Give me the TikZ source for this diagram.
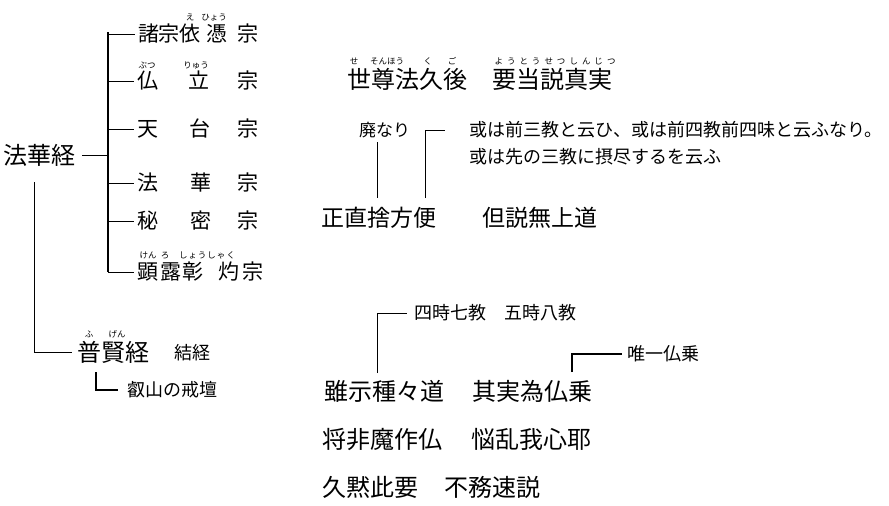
\documentclass[tikz,border=0pt]{standalone}
\usepackage{fontspec}
\setmainfont{Noto Sans CJK JP}
\newcommand\fbig{\fontsize{24pt}{24pt}\selectfont}
\newcommand\fbiga{\fontsize{23pt}{23pt}\selectfont}
\newcommand\fmid{\fontsize{21pt}{21pt}\selectfont}
\newcommand\fsml{\fontsize{18pt}{18pt}\selectfont}
\newcommand\fhai{\fontsize{17pt}{17pt}\selectfont}
\newcommand\frb{\fontsize{8.5pt}{8.5pt}\selectfont}
\newcommand\spk{\kern4pt}
\newcommand\spr{\kern1pt}
\begin{document}
\begin{tikzpicture}[x=1pt,y=-1pt,
  txt/.style={inner sep=0pt,outer sep=0pt},
  wtxt/.style={txt,anchor=west},
  big/.style={wtxt,font=\fbig,text height=21.12pt,text depth=2.88pt},
  biga/.style={wtxt,font=\fbiga,text height=20.24pt,text depth=2.76pt},
  sml/.style={wtxt,font=\fsml,text height=15.84pt,text depth=2.16pt},
  hai/.style={wtxt,font=\fhai,text height=14.96pt,text depth=2.04pt},
  ch/.style={txt,font=\fmid,text height=18.48pt,text depth=2.52pt},
  rb/.style={txt,font=\frb,text height=7.48pt,text depth=1.02pt},
  ln/.style={line width=0.8pt},
  trunk/.style={line width=1.6pt}]
\useasboundingbox (0,0) rectangle (889,506);
\fill[white] (0,0) rectangle (889,506);

% ---- tree on the left ----
\node[big] (hk) at (4,155) {法華経};
\coordinate (ttop) at (108,32);
\coordinate (tbot) at (108,272);
\draw[trunk] (ttop) -- (tbot);
\coordinate (thk) at (108,155);
\draw[ln,shorten <=6pt] (hk) -- (thk);

% row 1
\node[ch] (b1) at (149,34) {諸};
\node[ch] (b1b) at (169,34) {宗};
\node[ch] (b1c) at (190,34) {依};
\node[ch] (b1d) at (217,34) {憑};
\node[ch] (b1e) at (248,34) {宗};
\node[rb] (r1a) at (190,17) {え};
\node[rb] (r1b) at (214,17) {ひょう};
% row 2
\node[ch] (b2) at (148,81) {仏};
\node[ch] (b2b) at (199,81) {立};
\node[ch] (b2c) at (248,81) {宗};
\node[rb] (r2a) at (147,65) {ぶつ};
\node[rb] (r2b) at (196,65) {りゅう};
% row 3
\node[ch] (b3) at (148,129) {天};
\node[ch] (b3b) at (200,129) {台};
\node[ch] (b3c) at (248,129) {宗};
% row 4
\node[ch] (b4) at (148,183) {法};
\node[ch] (b4b) at (201,183) {華};
\node[ch] (b4c) at (248,183) {宗};
% row 5
\node[ch] (b5) at (148,221) {秘};
\node[ch] (b5b) at (201,221) {密};
\node[ch] (b5c) at (248,221) {宗};
% row 6
\node[ch] (b6) at (148,272) {顕};
\node[ch] (b6b) at (171,272) {露};
\node[ch] (b6c) at (193,272) {彰};
\node[ch] (b6d) at (229,272) {灼};
\node[ch] (b6e) at (253,272) {宗};
\node[rb] (r6a) at (148,255) {けん};
\node[rb] (r6b) at (165,255) {ろ};
\node[rb] (r6c) at (207,255) {し\spr ょ\spr う\spr し\spr ゃ\spr く};

\foreach \n/\yy in {1/34,2/81,3/129,4/183,5/221,6/272}{
  \coordinate (t\n) at (108,\yy);
  \draw[ln,shorten >=4pt] (t\n) -- (b\n);
}

% 普賢経
\node[big] (fk) at (77,352) {普賢経};
\node[rb] (rfa) at (89,334) {ふ};
\node[rb] (rfb) at (117,334) {げん};
\node[sml] (kk) at (174,353) {結経};
\coordinate (hkd) at (34,182);
\draw[ln,shorten >=5pt] (hkd) |- (fk);
\node[sml] (ez) at (127,390) {叡山の戒壇};
\coordinate (ezc) at (96,372);
\draw[ln,line width=1.2pt,shorten >=9pt] (ezc) |- (ez);

% ---- upper middle ----
\node[big] (sk) at (347,79) {世尊法久後};
\node[big] (yt) at (492,79) {要当説真実};
\node[rb,anchor=west] (rs) at (349.75,61) {せ\kern11.75pt そんほう\kern19.75pt く\kern15.5pt ご};
\node[rb,anchor=west] (ry) at (494.5,61) {よ\spk う\spk と\spk う\spk せ\spk つ\spk し\spk ん\spk じ\spk つ};

\node[hai] (hn) at (359,130) {廃なり};
\node[sml] (ar1) at (469,130) {或は前三教と云ひ、或は前四教前四味と云ふなり。};
\node[sml] (ar2) at (469,157) {或は先の三教に摂尽するを云ふ};
\node[biga] (zc) at (321,218) {正直捨方便};
\node[biga] (tj) at (482,218) {但説無上道};
\coordinate (a1) at (377,198);
\draw[ln] ([yshift=-3.5pt]hn.south -| a1) -- (a1);
\coordinate (a2) at (425,198);
\draw[ln,shorten >=24pt] (a2) |- (ar1);

% ---- lower middle ----
\node[sml] (sj) at (414,313) {四時七教　五時八教};
\node[big] (ss) at (324,391) {雖示種々道};
\node[big] (kj) at (472,391) {其実為仏乗};
\coordinate (c1) at (377,373);
\draw[ln,shorten >=7pt] (c1) |- (sj);
\node[sml] (yb) at (627,354) {唯一仏乗};
\coordinate (c2) at (572,372);
\draw[ln,line width=1.2pt,shorten >=5pt] (c2) |- (yb);
\node[big] (sh) at (322,439) {将非魔作仏};
\node[big] (nr) at (471,439) {悩乱我心耶};
\node[big] (km) at (322,487) {久黙此要};
\node[big] (fm) at (444,487) {不務速説};
\end{tikzpicture}
\end{document}
